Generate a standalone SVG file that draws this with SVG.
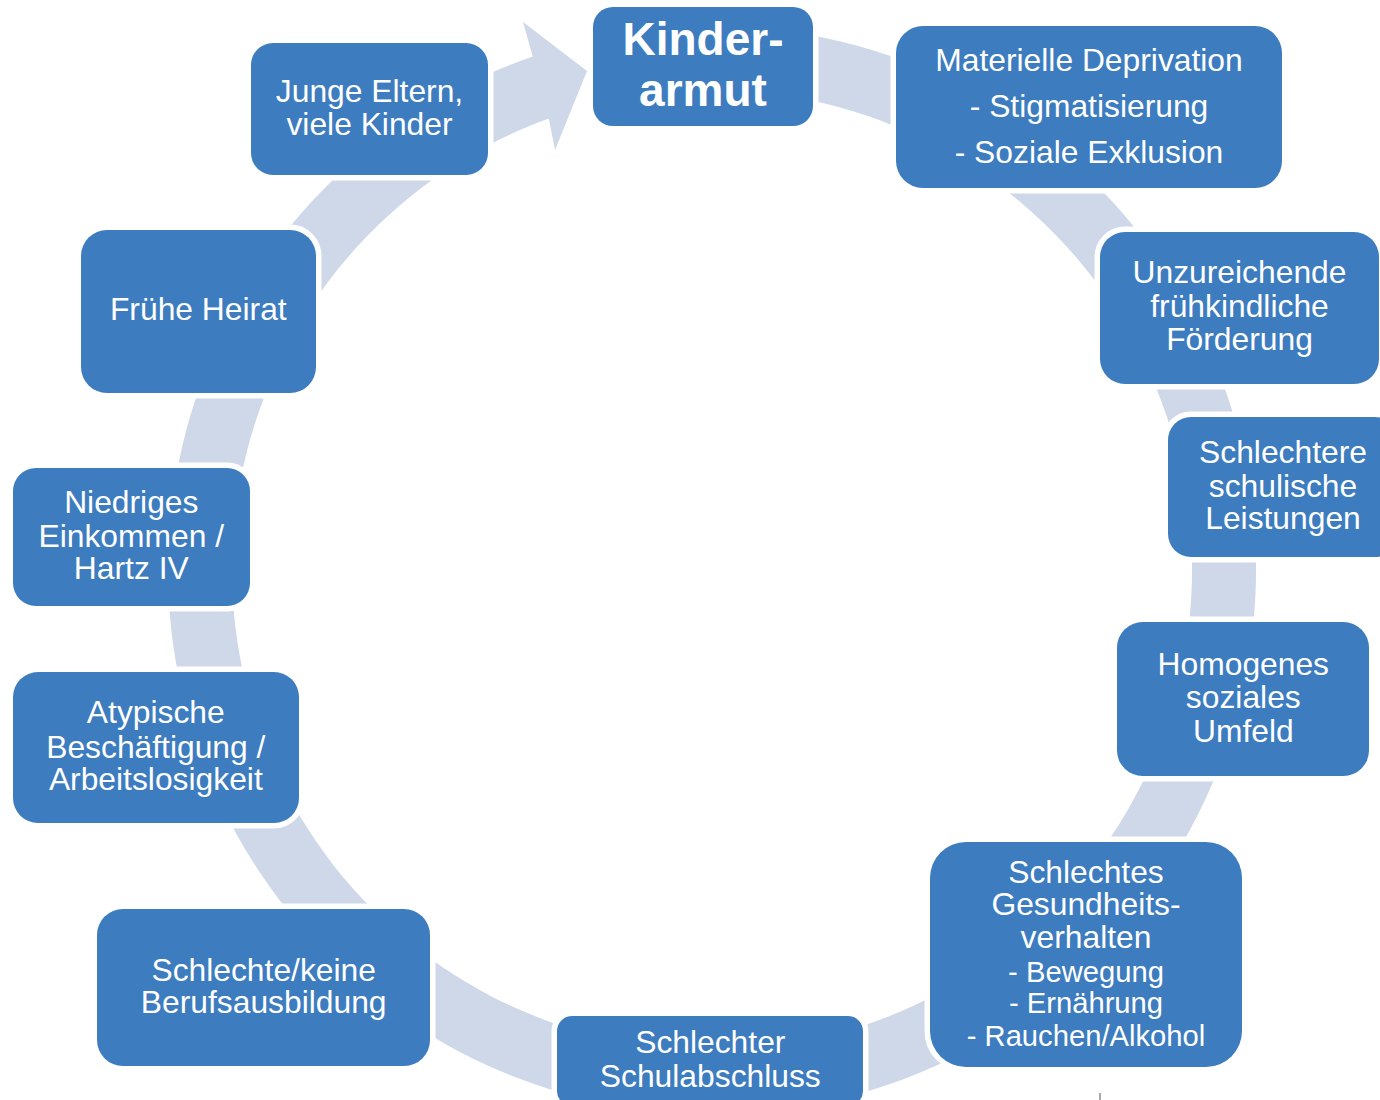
<svg xmlns="http://www.w3.org/2000/svg" width="1380" height="1100" viewBox="0 0 1380 1100">
  <style>
    .ring { fill: #CED8E9; }
    .box { fill: #3C7CBF; stroke: #FFFFFF; stroke-width: 11; paint-order: stroke fill; }
    .t { font-family: "Liberation Sans", Arial, sans-serif; font-size: 31.8px; fill: #FFFFFF; text-anchor: middle; }
    .s { font-size: 29.2px; }
    .b { font-weight: bold; font-size: 46px; }
  </style>
  <rect width="1380" height="1100" fill="#FFFFFF"/>

  <!-- cycle band: circular arrow around centre (712,570) -->
  <g id="connectors">
    <path class="ring" d="M 759.41 28.07 A 544 544 0 1 1 532.7 56.4 L 523 22 L 587 71 L 555 150 L 548.8 118.6 A 480 480 0 1 0 753.84 91.83 Z"/>
  </g>

  <g id="kinderarmut">
    <rect class="box" x="593" y="7" width="220" height="119" rx="20"/>
    <text class="t b" x="703" y="55">Kinder-</text>
    <text class="t b" x="703" y="106">armut</text>
  </g>

  <g id="materielle-deprivation">
    <rect class="box" x="896" y="26" width="386" height="162" rx="27"/>
    <text class="t" x="1089" y="70.7">Materielle Deprivation</text>
    <text class="t" x="1089" y="117.3">- Stigmatisierung</text>
    <text class="t" x="1089" y="163.3">- Soziale Exklusion</text>
  </g>

  <g id="foerderung">
    <rect class="box" x="1100" y="232" width="279" height="152" rx="25"/>
    <text class="t" x="1239.5" y="283.3">Unzureichende</text>
    <text class="t" x="1239.5" y="317.3">frühkindliche</text>
    <text class="t" x="1239.5" y="350">Förderung</text>
  </g>

  <g id="leistungen">
    <rect class="box" x="1168" y="417" width="230" height="140" rx="23"/>
    <text class="t" x="1283" y="462.7">Schlechtere</text>
    <text class="t" x="1283" y="496.7">schulische</text>
    <text class="t" x="1283" y="529.3">Leistungen</text>
  </g>

  <g id="umfeld">
    <rect class="box" x="1117" y="622" width="252" height="154" rx="25.7"/>
    <text class="t" x="1243.3" y="675">Homogenes</text>
    <text class="t" x="1243.3" y="708.3">soziales</text>
    <text class="t" x="1243.3" y="741.7">Umfeld</text>
  </g>

  <g id="gesundheit">
    <rect class="box" x="930" y="842" width="312" height="225" rx="36"/>
    <text class="t" x="1086" y="882.7">Schlechtes</text>
    <text class="t" x="1086" y="915">Gesundheits-</text>
    <text class="t" x="1086" y="948.3">verhalten</text>
    <text class="t s" x="1086" y="981.7">- Bewegung</text>
    <text class="t s" x="1086" y="1013">- Ernährung</text>
    <text class="t s" x="1086" y="1046">- Rauchen/Alkohol</text>
  </g>

  <g id="schulabschluss">
    <rect class="box" x="557" y="1016" width="306" height="90" rx="15"/>
    <text class="t" x="710.3" y="1053.3">Schlechter</text>
    <text class="t" x="710.3" y="1086.7">Schulabschluss</text>
  </g>

  <g id="berufsausbildung">
    <rect class="box" x="97" y="909" width="333" height="157" rx="26"/>
    <text class="t" x="263.7" y="980.7">Schlechte/keine</text>
    <text class="t" x="263.7" y="1013.3">Berufsausbildung</text>
  </g>

  <g id="beschaeftigung">
    <rect class="box" x="13" y="672" width="286" height="151" rx="25"/>
    <text class="t" x="155.8" y="723.3">Atypische</text>
    <text class="t" x="155.8" y="757.7">Beschäftigung /</text>
    <text class="t" x="155.8" y="790">Arbeitslosigkeit</text>
  </g>

  <g id="einkommen">
    <rect class="box" x="13" y="468" width="237" height="138" rx="23"/>
    <text class="t" x="131.3" y="513.3">Niedriges</text>
    <text class="t" x="131.3" y="546.7">Einkommen /</text>
    <text class="t" x="131.3" y="579.3">Hartz IV</text>
  </g>

  <g id="heirat">
    <rect class="box" x="81" y="230" width="235" height="163" rx="26"/>
    <text class="t" x="198.3" y="320">Frühe Heirat</text>
  </g>

  <g id="junge-eltern">
    <rect class="box" x="251" y="43" width="237" height="132" rx="22"/>
    <text class="t" x="369.5" y="101.7">Junge Eltern,</text>
    <text class="t" x="369.5" y="135">viele Kinder</text>
  </g>

  <!-- small stray mark at the lower edge -->
  <line x1="1100" y1="1093" x2="1100" y2="1100" stroke="#A8A8A8" stroke-width="2"/>
</svg>
